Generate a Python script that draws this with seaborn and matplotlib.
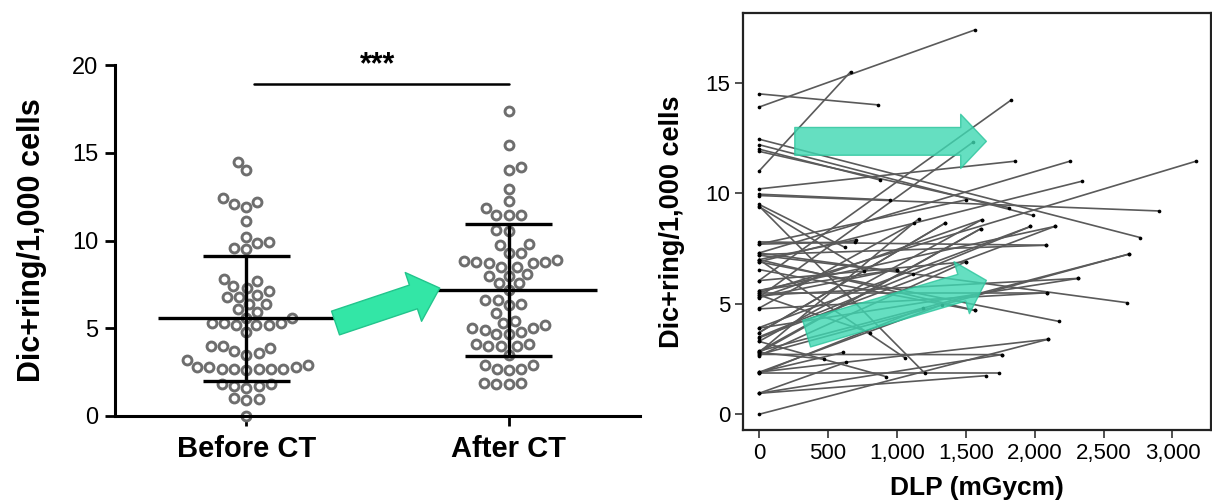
import numpy as np
import pandas as pd
import matplotlib
matplotlib.use("Agg")
import matplotlib.pyplot as plt
import seaborn as sns

# left panel: dicentric+ring counts per 1,000 cells, before / after CT
groups = ["Before CT", "After CT"]
before_ct = [14.5, 14.0, 12.4, 12.1, 11.9, 12.2, 11.1, 10.2, 9.85, 9.9, 9.5, 9.6,
             7.8, 7.7, 7.3, 7.4, 7.1, 6.9, 6.8, 6.8, 6.4, 6.4, 6.1, 5.9, 5.6, 5.6,
             5.3, 5.2, 5.2, 5.3, 5.2, 5.3, 4.8, 4.0, 3.7, 3.5, 3.6, 3.9, 4.0,
             2.9, 2.8, 2.7, 2.7, 2.7, 2.6, 2.7, 2.7, 2.8, 2.8, 3.2,
             1.8, 1.7, 1.6, 1.7, 1.8, 0.95, 0.9, 1.0, 0.0]
after_ct = [17.4, 15.45, 14.0, 14.2, 12.95, 12.25, 11.85, 11.45, 11.45, 11.45,
            10.55, 10.6, 9.75, 9.8, 9.3, 9.3, 8.85, 8.8, 8.7, 8.7, 8.8, 8.9,
            8.5, 8.5, 8.1, 8.0, 8.0, 7.6, 7.6, 7.2, 6.6, 6.4, 6.3, 6.6, 5.85,
            5.3, 5.4, 5.2, 5.0, 4.8, 4.7, 4.7, 4.9, 5.0, 4.1, 4.0, 4.0, 4.0, 4.1,
            3.5, 2.9, 2.7, 2.6, 2.7, 2.9, 1.9, 1.8, 1.8, 1.9]
group_mean = [5.56, 7.18]
group_sd = [3.57, 3.75]
signif = "***"

# right panel: per subject, value before (DLP=0) and after at the CT dose
line_before = [13.9, 11.0, 14.5, 6.05, 5.3, 10.2, 7.3, 5.5, 12.0, 6.9, 9.96, 7.7,
               11.9, 12.2, 9.9, 3.5, 5.6, 3.3, 2.85, 2.8, 4.8, 3.7, 12.45, 7.8,
               7.0, 9.5, 2.7, 2.65, 9.4, 5.3, 7.2, 3.9, 5.5, 7.3, 1.9, 1.85, 6.55,
               6.9, 5.4, 0.0, 1.9, 0.95, 7.0, 2.8, 0.95, 9.43, 1.85, 0.95, 3.3, 7.7,
               7.23, 6.05, 5.38, 5.27, 4.77, 3.92, 3.69, 3.46, 2.86, 2.79, 2.71,
               1.91, 7.0, 5.6]
dlp = [1570, 665, 865, 1825, 1550, 1855, 2255, 3170, 880, 2345, 950, 1500,
       1815, 1985, 2905, 1970, 2145, 1615, 1610, 1160, 1122, 1350, 2765, 2085,
       705, 625, 2685, 1500, 765, 1000, 1120, 2315, 2090, 2670, 1325, 1190, 1570,
       2180, 805, 2100, 610, 1760, 1060, 470, 630, 1205, 1745, 1650, 925, 700,
       2085, 1500, 2315, 1615, 2090, 1970, 1350, 2145, 2685, 1610, 1760,
       2100, 1570, 1000]
line_after = [17.4, 15.5, 14.0, 14.2, 12.3, 11.45, 11.45, 11.45, 10.6, 10.55, 9.7, 9.7,
              9.35, 9.0, 9.2, 8.5, 8.5, 8.8, 8.4, 8.85, 8.65, 8.65, 8.0, 7.65,
              7.9, 7.55, 7.25, 6.9, 6.5, 6.55, 6.35, 6.15, 5.5, 5.05, 4.95, 4.8, 4.7,
              4.2, 3.7, 3.4, 2.8, 2.7, 2.55, 2.5, 2.35, 1.85, 1.85, 1.75, 1.7, 7.8,
              7.65, 6.9, 6.15, 8.8, 5.5, 8.5, 8.65, 8.5, 7.25, 8.4, 2.7,
              3.4, 4.7, 6.55]
dlp_ticks = [0, 500, 1000, 1500, 2000, 2500, 3000]
dlp_ticklabels = ["0", "500", "1,000", "1,500", "2,000", "2,500", "3,000"]

sns.set_style("ticks")
plt.rcParams["font.family"] = ["Liberation Sans", "DejaVu Sans"]
plt.rcParams.update({"text.color": "black", "axes.labelcolor": "black",
                     "xtick.color": "black", "ytick.color": "black",
                     "axes.edgecolor": "black"})

df = pd.DataFrame({
    "group": [groups[0]] * len(before_ct) + [groups[1]] * len(after_ct),
    "value": before_ct + after_ct,
})
n = len(dlp)
lines = pd.DataFrame({
    "subject": list(range(n)) * 2,
    "dlp": [0] * n + dlp,
    "value": line_before + line_after,
})

fig = plt.figure(figsize=(12.12, 5.01), dpi=100)
ax1 = fig.add_axes([0.0949, 0.1697, 0.4332, 0.7003])
ax2 = fig.add_axes([0.613, 0.1417, 0.386, 0.832])

# ---- left: scatter dot plot with mean and SD
sns.swarmplot(data=df, x="group", y="value", order=groups, ax=ax1, size=6.4,
              color="white", edgecolor="#6e6e6e", linewidth=2.1, zorder=2)
for c in ax1.collections:
    c.set_clip_on(False)
for i in range(2):
    m, s = group_mean[i], group_sd[i]
    ax1.hlines(m, i - 0.335, i + 0.335, color="black", lw=2.4, zorder=3)
    ax1.hlines([m - s, m + s], i - 0.166, i + 0.166, color="black", lw=2.4, zorder=3)
    ax1.vlines(i, m - s, m + s, color="black", lw=2.4, zorder=3)

ax1.plot([0.03, 1.0], [18.9, 18.9], color="black", lw=1.8, clip_on=False)
ax1.text(0.5, 20.0, signif, ha="center", va="center", fontsize=22,
         fontweight="bold")

ax1.annotate("", xy=(0.737, 7.29), xytext=(0.34, 5.3), xycoords="data",
             arrowprops=dict(arrowstyle="simple,head_length=20,head_width=37,tail_width=18",
                             mutation_scale=1, shrinkA=0, shrinkB=0,
                             facecolor="#33e6a6", edgecolor="#22c58c", lw=1),
             zorder=4)

ax1.set_xlim(-0.5, 1.5)
ax1.set_ylim(0, 20)
ax1.set_yticks([0, 5, 10, 15, 20])
sns.despine(ax=ax1)
for sp in ["left", "bottom"]:
    ax1.spines[sp].set_linewidth(2.2)
ax1.tick_params(axis="y", length=7, width=2, labelsize=17, pad=5)
ax1.tick_params(axis="x", length=7, width=2, labelsize=21, pad=7)
for lab in ax1.get_xticklabels():
    lab.set_fontweight("bold")
ax1.set_xlabel("")
ax1.set_ylabel("Dic+ring/1,000 cells", fontsize=22, fontweight="bold")
ax1.yaxis.set_label_coords(-0.13, 0.5)

# ---- right: before -> after lines against DLP
sns.lineplot(data=lines, x="dlp", y="value", units="subject", estimator=None,
             sort=False, color="#5a5a5a", lw=1.2, ax=ax2, zorder=2)
sns.scatterplot(data=lines, x="dlp", y="value", color="black", s=7,
                linewidth=0, ax=ax2, zorder=3)

arrow_kw = dict(arrowstyle="simple,head_length=18.5,head_width=39,tail_width=20",
                mutation_scale=1, shrinkA=0, shrinkB=0,
                facecolor="#3fd8b2", edgecolor="#2cc49c", lw=1, alpha=0.8)
ax2.annotate("", xy=(1650, 12.35), xytext=(260, 12.35), arrowprops=arrow_kw,
             zorder=4)
ax2.annotate("", xy=(1650, 6.06), xytext=(346, 3.65), arrowprops=arrow_kw,
             zorder=4)

ax2.set_xlim(-116, 3278)
ax2.set_ylim(-0.71, 18.15)
ax2.set_xticks(dlp_ticks)
ax2.set_xticklabels(dlp_ticklabels)
ax2.set_yticks([0, 5, 10, 15])
for sp in ax2.spines.values():
    sp.set_linewidth(1.6)
    sp.set_color("#222222")
ax2.tick_params(length=6, width=1.2, labelsize=16, pad=3, color="#333333")
ax2.set_xlabel("DLP (mGycm)", fontsize=19, fontweight="bold")
ax2.set_ylabel("Dic+ring/1,000 cells", fontsize=19.5, fontweight="bold")
ax2.yaxis.set_label_coords(-0.124, 0.5)
ax2.xaxis.set_label_coords(0.5, -0.11)

fig.savefig("out.png", dpi=100)
